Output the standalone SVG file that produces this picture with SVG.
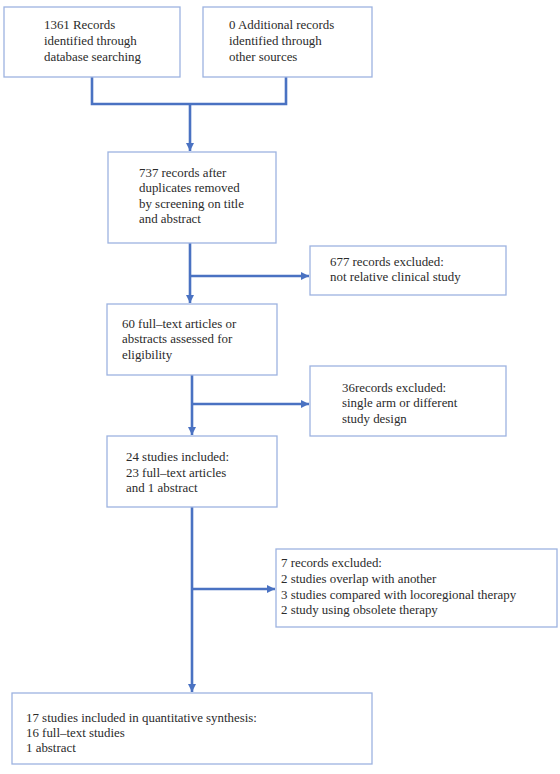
<svg xmlns="http://www.w3.org/2000/svg" width="560" height="774" viewBox="0 0 560 774">
<style>
.box{fill:#fff;stroke:#9db3e0;stroke-width:1.3}
.t{font-family:"Liberation Serif","Times New Roman",serif;font-size:12.9px;fill:#2b2b2b}
.c{fill:none;stroke:#4a72c2;stroke-width:2.6}
</style>
<defs>
<marker id="ah" viewBox="0 0 10 10" refX="10" refY="5" markerWidth="3.2" markerHeight="3.2" orient="auto" markerUnits="strokeWidth">
<path d="M0,0 L10,5 L0,10 z" fill="#4a72c2"/>
</marker>
</defs>
<rect width="560" height="774" fill="#fff"/>
<g id="connectors">
<path class="c" d="M92,77 V104 H286 V77"/>
<path class="c" d="M190,104 V151" marker-end="url(#ah)"/>
<path class="c" d="M190,243 V303" marker-end="url(#ah)"/>
<path class="c" d="M190,276 H309" marker-end="url(#ah)"/>
<path class="c" d="M192,375 V435" marker-end="url(#ah)"/>
<path class="c" d="M192,404 H309" marker-end="url(#ah)"/>
<path class="c" d="M192,507 V692" marker-end="url(#ah)"/>
<path class="c" d="M192,589 H275" marker-end="url(#ah)"/>
</g>
<g id="n1">
<rect class="box" x="4" y="7" width="176" height="70"/>
<text class="t" x="44" y="29">1361 Records</text>
<text class="t" x="44" y="45">identified through</text>
<text class="t" x="44" y="61">database searching</text>
</g>
<g id="n2">
<rect class="box" x="203" y="7" width="169" height="70"/>
<text class="t" x="229" y="29">0 Additional records</text>
<text class="t" x="229" y="45">identified through</text>
<text class="t" x="229" y="61">other sources</text>
</g>
<g id="n3">
<rect class="box" x="108" y="152" width="168" height="91"/>
<text class="t" x="139" y="177">737 records after</text>
<text class="t" x="139" y="192">duplicates removed</text>
<text class="t" x="139" y="208">by screening on title</text>
<text class="t" x="139" y="223">and abstract</text>
</g>
<g id="n4">
<rect class="box" x="310" y="246" width="196" height="49"/>
<text class="t" x="330" y="266">677 records excluded:</text>
<text class="t" x="330" y="281">not relative clinical study</text>
</g>
<g id="n5">
<rect class="box" x="107" y="304" width="170" height="71"/>
<text class="t" x="122" y="328">60 full–text articles or</text>
<text class="t" x="122" y="343">abstracts assessed for</text>
<text class="t" x="122" y="359">eligibility</text>
</g>
<g id="n6">
<rect class="box" x="310" y="366" width="196" height="70"/>
<text class="t" x="342" y="392">36records excluded:</text>
<text class="t" x="342" y="407">single arm or different</text>
<text class="t" x="342" y="423">study design</text>
</g>
<g id="n7">
<rect class="box" x="107" y="436" width="170" height="71"/>
<text class="t" x="126" y="461">24 studies included:</text>
<text class="t" x="126" y="477">23 full–text articles</text>
<text class="t" x="126" y="492">and 1 abstract</text>
</g>
<g id="n8">
<rect class="box" x="276" y="549" width="281" height="78"/>
<text class="t" x="281" y="567">7 records excluded:</text>
<text class="t" x="281" y="583">2 studies overlap with another</text>
<text class="t" x="281" y="599">3 studies compared with locoregional therapy</text>
<text class="t" x="281" y="614">2 study using obsolete therapy</text>
</g>
<g id="n9">
<rect class="box" x="12" y="693" width="360" height="71"/>
<text class="t" x="26" y="722">17 studies included in quantitative synthesis:</text>
<text class="t" x="26" y="737">16 full–text studies</text>
<text class="t" x="26" y="752">1 abstract</text>
</g>
</svg>
